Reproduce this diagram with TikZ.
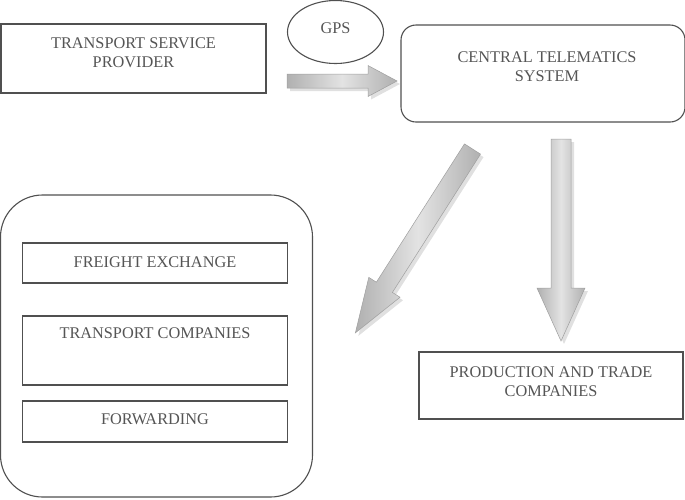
\documentclass[tikz,border=0pt]{standalone}
\usepackage{fontspec}
\setmainfont{Liberation Serif}
\usetikzlibrary{shapes.geometric}
\definecolor{edge}{HTML}{505050}
\definecolor{txt}{HTML}{555555}
\tikzset{
  box/.style={draw=edge, line width=1.1pt, inner sep=0pt, fill=white},
  rbox/.style={box, rounded corners=#1},
  lbl/.style={text=txt, font=\fontsize{16.3}{19}\selectfont, align=center, inner sep=0pt},
  arrshadow/.style={fill=black!12, draw=none},
  arrbody/.style={draw=gray!75, line width=0.5pt, left color=gray!62, right color=gray!62, middle color=gray!22}
}
% \blockarr{name}{x}{y}{angle}{length}{shaft width}{head width}{head length}
\newcommand\blockarr[8]{%
  \begin{scope}[shift={(#2+3,#3+3)}, rotate=#4]
    \fill[arrshadow] (0,-#6/2) -- (#5-#8,-#6/2) -- (#5-#8,-#7/2) -- (#5,0) -- (#5-#8,#7/2) -- (#5-#8,#6/2) -- (0,#6/2) -- cycle;
  \end{scope}
  \begin{scope}[shift={(#2,#3)}, rotate=#4]
    \path[arrbody] (0,-#6/2) -- (#5-#8,-#6/2) -- (#5-#8,-#7/2) -- (#5,0) -- (#5-#8,#7/2) -- (#5-#8,#6/2) -- (0,#6/2) -- cycle;
    \coordinate (#1-tail) at (0,0);
    \coordinate (#1-tip) at (#5,0);
  \end{scope}}
\begin{document}
\begin{tikzpicture}[x=1pt,y=-1pt]
\useasboundingbox (0,0) rectangle (685,499);
% top-left box
\node[box, minimum width=265pt, minimum height=69pt] (tsp) at (133.5,58.5) {};
\node[lbl] (tsp-t) at (133.5,53) {TRANSPORT SERVICE\\PROVIDER};
% GPS
\node[draw=edge, line width=1.1pt, ellipse, minimum width=96pt, minimum height=63pt, inner sep=0pt] (gps) at (335.5,32) {};
\node[lbl] (gps-t) at (335.5,28) {GPS};
% central
\node[rbox=15pt, minimum width=284pt, minimum height=97pt] (cts) at (543,73.5) {};
\node[lbl] (cts-t) at (547,66.5) {CENTRAL TELEMATICS\\SYSTEM};
% production
\node[box, minimum width=264pt, minimum height=67pt] (ptc) at (551,385.5) {};
\node[lbl] (ptc-t) at (551,381.5) {PRODUCTION AND TRADE\\COMPANIES};
% big group
\node[rbox=42pt, minimum width=312pt, minimum height=302pt] (grp) at (156.5,346) {};
\node[box, minimum width=265pt, minimum height=40pt] (fe) at (155,263) {};
\node[lbl] (fe-t) at (155,262.5) {FREIGHT EXCHANGE};
\node[box, minimum width=265pt, minimum height=69pt] (tc) at (155,350.5) {};
\node[lbl] (tc-t) at (155,333) {TRANSPORT COMPANIES};
\node[box, minimum width=265pt, minimum height=41pt] (fw) at (155,421.5) {};
\node[lbl] (fw-t) at (155,419) {FORWARDING};
% block arrows
\blockarr{a1}{287}{81}{0}{110}{14}{31}{29}
\blockarr{a2}{472.5}{149}{237.5}{218}{19}{37}{54}
\blockarr{a3}{561}{139}{-90}{202}{20}{48}{53}
\end{tikzpicture}
\end{document}
